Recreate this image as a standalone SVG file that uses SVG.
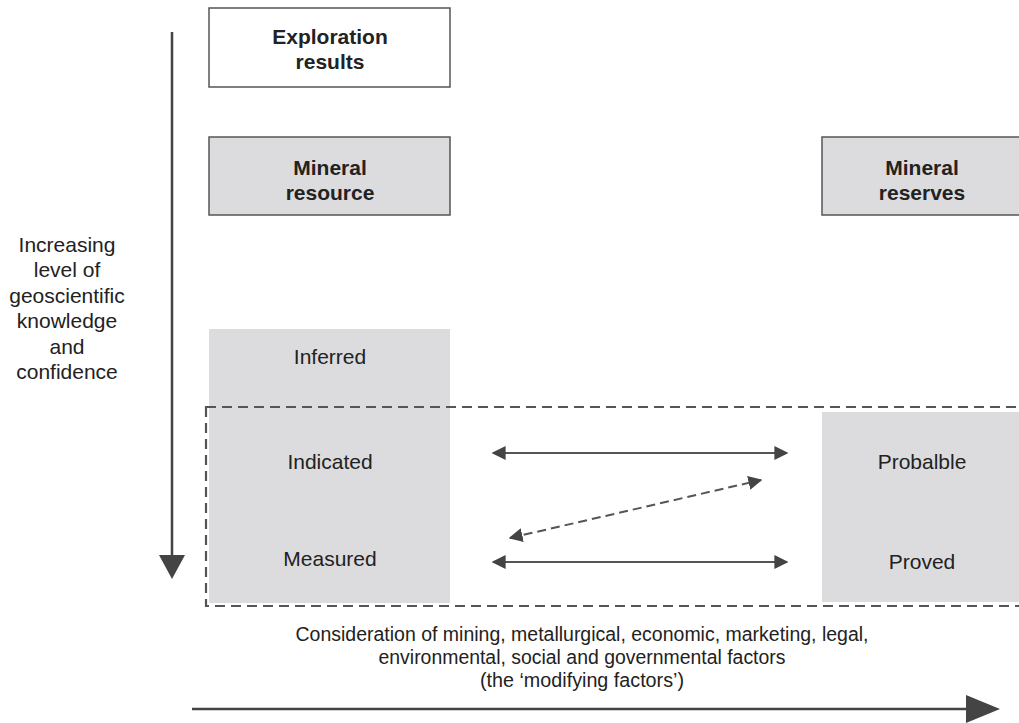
<svg xmlns="http://www.w3.org/2000/svg" width="1019" height="723" viewBox="0 0 1019 723">
<style>
.t{font-family:"Liberation Sans",Arial,sans-serif;font-size:21px;fill:#222;text-anchor:middle}
.s{font-size:20px}
.b{font-weight:bold}
.box{stroke:#555;stroke-width:1.5}
.col{fill:#dcdcde}
.ar{stroke:#555;stroke-width:2;fill:none}
</style>
<defs>
<marker id="ah" viewBox="0 0 10 10" refX="9" refY="5" markerWidth="7" markerHeight="7" orient="auto-start-reverse" markerUnits="strokeWidth">
<path d="M0,0 L10,5 L0,10 z" fill="#444"/>
</marker>
</defs>
<rect width="1019" height="723" fill="#fff"/>
<g id="axis-left">
<line x1="172" y1="32" x2="172" y2="558" stroke="#444" stroke-width="2.5"/>
<polygon points="159,555 185,555 172,579" fill="#444"/>
<text class="t" x="67" y="252">Increasing</text>
<text class="t" x="67" y="277">level of</text>
<text class="t" x="67" y="303">geoscientific</text>
<text class="t" x="67" y="328">knowledge</text>
<text class="t" x="67" y="354">and</text>
<text class="t" x="67" y="379">confidence</text>
</g>
<g id="exploration">
<rect class="box" x="209" y="8" width="241" height="79" fill="#fff"/>
<text class="t b" x="330" y="44">Exploration</text>
<text class="t b" x="330" y="69">results</text>
</g>
<g id="mineral-resource">
<rect class="box" x="209" y="137" width="241" height="78" fill="#dcdcde"/>
<text class="t b" x="330" y="175">Mineral</text>
<text class="t b" x="330" y="200">resource</text>
</g>
<g id="mineral-reserves">
<rect class="box" x="822" y="137" width="200" height="78" fill="#dcdcde"/>
<text class="t b" x="922" y="175">Mineral</text>
<text class="t b" x="922" y="200">reserves</text>
</g>
<g id="resource-column">
<rect class="col" x="209" y="329" width="241" height="274"/>
<text class="t" x="330" y="364">Inferred</text>
<text class="t" x="330" y="469">Indicated</text>
<text class="t" x="330" y="566">Measured</text>
</g>
<g id="reserve-column">
<rect class="col" x="822" y="412" width="200" height="190"/>
<text class="t" x="922" y="469">Probalble</text>
<text class="t" x="922" y="569">Proved</text>
</g>
<g id="modifying-zone">
<rect x="206" y="407" width="830" height="199" fill="none" stroke="#555" stroke-width="2.2" stroke-dasharray="10,6"/>
</g>
<g id="connectors">
<line class="ar" x1="493" y1="453" x2="787" y2="453" marker-start="url(#ah)" marker-end="url(#ah)"/>
<line class="ar" x1="493" y1="562" x2="787" y2="562" marker-start="url(#ah)" marker-end="url(#ah)"/>
<line class="ar" x1="510" y1="538" x2="761" y2="480" stroke-dasharray="9,5" marker-start="url(#ah)" marker-end="url(#ah)"/>
</g>
<g id="modifying-factors">
<text class="t s" x="582" y="641" textLength="573" lengthAdjust="spacingAndGlyphs">Consideration of mining, metallurgical, economic, marketing, legal,</text>
<text class="t s" x="582" y="664" textLength="407" lengthAdjust="spacingAndGlyphs">environmental, social and governmental factors</text>
<text class="t s" x="582" y="687" textLength="204" lengthAdjust="spacingAndGlyphs">(the ‘modifying factors’)</text>
<line x1="192" y1="709" x2="970" y2="709" stroke="#444" stroke-width="2.5"/>
<polygon points="966,695 966,723 1000,709" fill="#444"/>
</g>
</svg>
